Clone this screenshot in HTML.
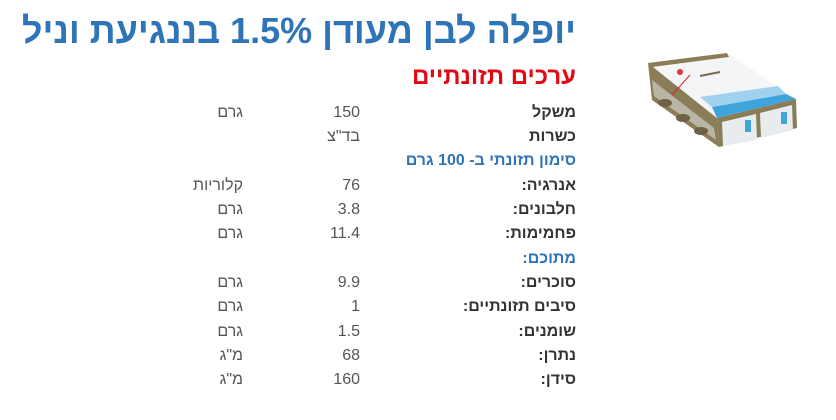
<!DOCTYPE html>
<html lang="he" dir="rtl">
<head>
<meta charset="utf-8">
<style>
  html,body{margin:0;padding:0;background:#fff;}
  body{width:836px;height:420px;position:relative;overflow:hidden;font-family:"Liberation Sans","DejaVu Sans",sans-serif;}
  .abs{position:absolute;white-space:nowrap;direction:rtl;}
  #title{right:260px;top:9px;font-size:36px;font-weight:bold;color:#2e74b8;line-height:44px;}
  #sub{right:260px;top:62px;font-size:24px;font-weight:bold;color:#e30613;line-height:30px;}
  .row{position:absolute;left:0;width:836px;height:24.3px;line-height:24.3px;font-size:16px;}
  .row span{position:absolute;white-space:nowrap;direction:rtl;top:0;}
  .lbl{right:260px;font-weight:bold;color:#333;}
  .val{right:476px;color:#555;}
  .unit{right:593px;color:#555;}
  .blue{color:#2e74b8;}
</style>
</head>
<body>
<div class="abs" id="title">יופלה לבן מעודן 1.5% בננגיעת וניל</div>
<div class="abs" id="sub">ערכים תזונתיים</div>

<div class="row" style="top:100.85px"><span class="lbl">משקל</span><span class="val">150</span><span class="unit">גרם</span></div>
<div class="row" style="top:125.15px"><span class="lbl">כשרות</span><span class="val">בד"צ</span></div>
<div class="row" style="top:149.45px"><span class="lbl blue">סימון תזונתי ב- 100 גרם</span></div>
<div class="row" style="top:173.75px"><span class="lbl">אנרגיה:</span><span class="val">76</span><span class="unit">קלוריות</span></div>
<div class="row" style="top:198.05px"><span class="lbl">חלבונים:</span><span class="val">3.8</span><span class="unit">גרם</span></div>
<div class="row" style="top:222.35px"><span class="lbl">פחמימות:</span><span class="val">11.4</span><span class="unit">גרם</span></div>
<div class="row" style="top:246.65px"><span class="lbl blue">מתוכם:</span></div>
<div class="row" style="top:270.95px"><span class="lbl">סוכרים:</span><span class="val">9.9</span><span class="unit">גרם</span></div>
<div class="row" style="top:295.25px"><span class="lbl">סיבים תזונתיים:</span><span class="val">1</span><span class="unit">גרם</span></div>
<div class="row" style="top:319.55px"><span class="lbl">שומנים:</span><span class="val">1.5</span><span class="unit">גרם</span></div>
<div class="row" style="top:343.85px"><span class="lbl">נתרן:</span><span class="val">68</span><span class="unit">מ"ג</span></div>
<div class="row" style="top:368.15px"><span class="lbl">סידן:</span><span class="val">160</span><span class="unit">מ"ג</span></div>

<svg style="position:absolute;left:630px;top:45px" width="180" height="110" viewBox="630 45 180 110">
  <polygon points="648,63 717,118 719,147 652,100" fill="#8a7d57"/>
  <polygon points="652,80 714,128 716,140 654,96" fill="#b9b6a6"/>
  <ellipse cx="665" cy="103" rx="7" ry="4" fill="#6e6246"/>
  <ellipse cx="683" cy="118" rx="7" ry="4" fill="#6e6246"/>
  <ellipse cx="701" cy="131" rx="7" ry="4" fill="#6e6246"/>
  <polygon points="648,63 727,53 796,99 717,118" fill="#f4f5f6"/>
  <polygon points="648,63 727,53 729,57 652,67" fill="#8a7d57"/>
  <polygon points="712,107 786,94 796,99 717,118" fill="#3fa3dc"/>
  <polygon points="700,97 778,86 786,94 712,107" fill="#9fd2ef"/>
  <line x1="700" y1="76" x2="720" y2="72" stroke="#7a6a50" stroke-width="2"/>
  <line x1="690" y1="75" x2="672" y2="95" stroke="#d9242b" stroke-width="1"/>
  <circle cx="680" cy="72" r="3" fill="#e23a3a"/>
  <polygon points="717,118 796,99 797,128 719,147" fill="#8a7d57"/>
  <polygon points="722,122 756,114 757,140 723,146" fill="#e8ecef"/>
  <polygon points="760,113 792,105 793,130 761,138" fill="#e8ecef"/>
  <rect x="745" y="120" width="6" height="12" fill="#3fa3dc"/>
  <rect x="781" y="112" width="6" height="12" fill="#3fa3dc"/>
</svg>
</body>
</html>
